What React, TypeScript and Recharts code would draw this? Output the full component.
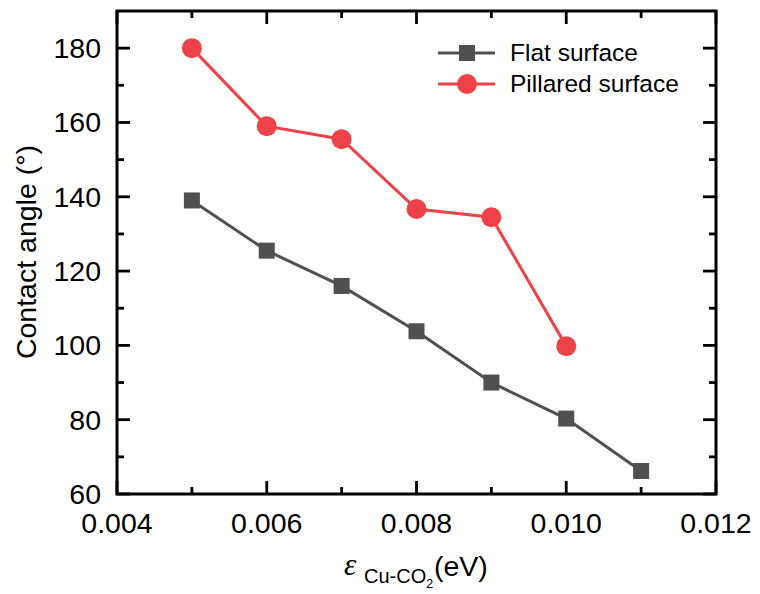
import React from 'react';
import { LineChart, Line, XAxis, YAxis, ReferenceArea, Legend } from 'recharts';

// energy parameter (eV)
const epsilonFlat = [0.005, 0.006, 0.007, 0.008, 0.009, 0.010, 0.011];
const angleFlat = [139, 125.5, 116, 103.8, 90, 80.3, 66.2];
const epsilonPillared = [0.005, 0.006, 0.007, 0.008, 0.009, 0.010];
const anglePillared = [180, 159, 155.5, 136.7, 134.5, 99.8];

const xTicks = [0.004, 0.005, 0.006, 0.007, 0.008, 0.009, 0.010, 0.011, 0.012];
const yTicks = [60, 70, 80, 90, 100, 110, 120, 130, 140, 150, 160, 170, 180];

const flatData = epsilonFlat.map((e, i) => ({ e, angle: angleFlat[i] }));
const pillaredData = epsilonPillared.map((e, i) => ({ e, angle: anglePillared[i] }));

const FONT = 'Liberation Sans, Arial, sans-serif';
const GREY = '#505050';
const RED = '#EF4148';

// plot edges in page pixels
const L = 117;
const R = 716;
const T = 11;
const B = 494;

const YTick = (props: any) => {
    const { y, payload } = props;
    const v = payload.value;
    const major = v % 20 === 0;
    const len = major ? 13 : 7;
    return (
        <g>
            <line x1={L} x2={L + len} y1={y} y2={y} stroke="#000" strokeWidth={2.8} />
            <line x1={R} x2={R - len} y1={y} y2={y} stroke="#000" strokeWidth={2.8} />
            {major && (
                <text x={L - 16} y={y + 10} textAnchor="end" fontSize={28.5} fontFamily={FONT} fill="#000">
                    {v}
                </text>
            )}
        </g>
    );
};

const XTick = (props: any) => {
    const { x, payload } = props;
    const v = payload.value;
    const major = Math.round(v * 1000) % 2 === 0;
    const len = major ? 13 : 7;
    return (
        <g>
            <line x1={x} x2={x} y1={B} y2={B - len} stroke="#000" strokeWidth={2.8} />
            <line x1={x} x2={x} y1={T} y2={T + len} stroke="#000" strokeWidth={2.8} />
            {major && (
                <text x={x} y={533} textAnchor="middle" fontSize={28.5} fontFamily={FONT} fill="#000">
                    {v.toFixed(3)}
                </text>
            )}
        </g>
    );
};

const SquareDot = (p: any) => (
    <rect key={`sq-${p.index}`} x={p.cx - 8} y={p.cy - 8} width={16} height={16} fill={GREY} />
);

const CircleDot = (p: any) => (
    <circle key={`ci-${p.index}`} cx={p.cx} cy={p.cy} r={10} fill={RED} />
);

const LegendBox = () => (
    <svg width={270} height={62} style={{ display: 'block' }}>
        <line x1={0} x2={57} y1={15} y2={15} stroke={GREY} strokeWidth={3} />
        <rect x={21} y={7} width={16} height={16} fill={GREY} />
        <text x={72} y={23} fontSize={24.5} fontFamily={FONT} fill="#000">Flat surface</text>
        <line x1={0} x2={57} y1={46} y2={46} stroke={RED} strokeWidth={3} />
        <circle cx={29} cy={46} r={10} fill={RED} />
        <text x={72} y={54} fontSize={24.5} fontFamily={FONT} fill="#000">Pillared surface</text>
    </svg>
);

const XLabel = () => (
    <text fontFamily={FONT} fill="#000">
        <tspan x={344} y={575} fontSize={31} fontStyle="italic" fontFamily="Liberation Serif, serif">ε</tspan>
        <tspan x={364} y={583} fontSize={20}>Cu-CO</tspan>
        <tspan x={426} y={588} fontSize={13}>2</tspan>
        <tspan x={434} y={576} fontSize={28.5}>(eV)</tspan>
    </text>
);

const YLabel = () => (
    <text transform="rotate(-90)" x={-252} y={36} textAnchor="middle" fontSize={28.5} fontFamily={FONT} fill="#000">
        Contact angle (°)
    </text>
);

export default function App() {
    return (
        <div style={{ position: 'absolute', left: 0, top: 0, background: '#fff' }}>
            <LineChart width={760} height={594} margin={{ top: T, right: 760 - R, left: 0, bottom: 0 }}>
                <XAxis
                    type="number"
                    dataKey="e"
                    domain={[0.004, 0.012]}
                    ticks={xTicks}
                    height={594 - B}
                    tick={<XTick />}
                    tickLine={false}
                    axisLine={false}
                    interval={0}
                    allowDataOverflow
                    label={{ content: () => <XLabel /> }}
                />
                <YAxis
                    type="number"
                    domain={[60, 190]}
                    ticks={yTicks}
                    width={L}
                    tick={<YTick />}
                    tickLine={false}
                    axisLine={false}
                    interval={0}
                    allowDataOverflow
                    label={{ content: () => <YLabel /> }}
                />
                <ReferenceArea x1={0.004} x2={0.012} y1={60} y2={190} fill="none" stroke="#000" strokeWidth={3} />
                <Line
                    data={flatData}
                    dataKey="angle"
                    stroke={GREY}
                    strokeWidth={3}
                    dot={SquareDot}
                    isAnimationActive={false}
                    name="Flat surface"
                />
                <Line
                    data={pillaredData}
                    dataKey="angle"
                    stroke={RED}
                    strokeWidth={3}
                    dot={CircleDot}
                    isAnimationActive={false}
                    name="Pillared surface"
                />
                <Legend
                    layout="vertical"
                    align="center"
                    verticalAlign="middle"
                    content={() => <LegendBox />}
                    wrapperStyle={{ top: 38, left: 438, width: 270, height: 62 }}
                />
            </LineChart>
        </div>
    );
}
